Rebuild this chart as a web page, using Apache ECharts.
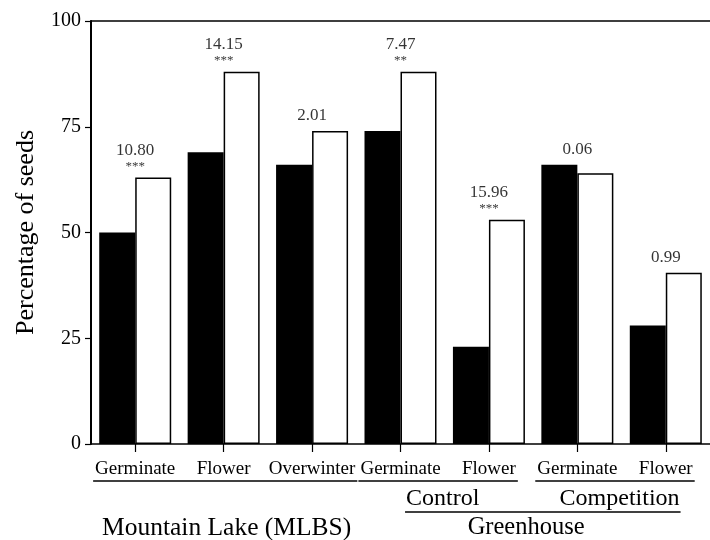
<!DOCTYPE html>
<html>
<head>
<meta charset="utf-8">
<script src="https://cdn.jsdelivr.net/npm/echarts@6/dist/echarts.min.js"></script>
<style>
  html, body { margin: 0; padding: 0; background: #fff; }
  #chart { width: 710px; height: 540px; }
</style>
</head>
<body>
<div id="chart"></div>
<script>
// ---- data ----
var categories = ['Germinate', 'Flower', 'Overwinter', 'Germinate', 'Flower', 'Germinate', 'Flower'];
var blackValues = [50, 69, 66, 74, 23, 66, 28];
var whiteValues = [63, 88, 74, 88, 53, 64, 40.5];
var statValues = ['10.80', '14.15', '2.01', '7.47', '15.96', '0.06', '0.99'];
var sigMarks = ['***', '***', '', '**', '***', '', ''];
var yTicks = [0, 25, 50, 75, 100];
var groupLevel1 = [
  { name: 'Control', from: 3, to: 4 },
  { name: 'Competition', from: 5, to: 6 }
];
var groupLevel2 = [
  { name: 'Mountain Lake (MLBS)', from: 0, to: 2 },
  { name: 'Greenhouse', from: 3, to: 6 }
];

var FONT = '"Liberation Serif", "DejaVu Serif", serif';
var FONT_NAME = 'Liberation Serif';

var annotData = categories.map(function (c, i) {
  return [i, Math.max(blackValues[i], whiteValues[i])];
});

var chart = echarts.init(document.getElementById('chart'), null, { renderer: 'canvas' });

var option = {
  backgroundColor: '#fff',
  animation: false,
  grid: { left: 91, top: 21, width: 625, height: 423 },
  xAxis: [{
    type: 'category',
    data: categories,
    axisLine: { show: true, lineStyle: { color: '#000', width: 1.5 } },
    axisTick: { show: true, alignWithLabel: true, length: 8, lineStyle: { color: '#000', width: 1.2 } },
    axisLabel: { color: '#000', fontFamily: FONT_NAME, fontSize: 19, margin: 16, interval: 0 },
    splitLine: { show: false }
  }, {
    type: 'category',
    position: 'top',
    data: categories,
    axisLine: { show: true, lineStyle: { color: '#000', width: 1.5 } },
    axisTick: { show: false },
    axisLabel: { show: false },
    splitLine: { show: false }
  }],
  yAxis: {
    type: 'value',
    min: yTicks[0], max: yTicks[yTicks.length - 1], interval: 25,
    name: 'Percentage of seeds',
    nameLocation: 'middle',
    nameRotate: 90,
    nameGap: 52,
    nameTextStyle: { color: '#000', fontFamily: FONT_NAME, fontSize: 26 },
    axisLine: { show: true, lineStyle: { color: '#000', width: 2 } },
    axisTick: { show: true, inside: false, length: 6, lineStyle: { color: '#000', width: 1.2 } },
    axisLabel: { color: '#000', fontFamily: FONT_NAME, fontSize: 20, margin: 10 },
    splitLine: { show: false }
  },
  series: [{
    type: 'bar',
    name: 'black',
    data: blackValues,
    barWidth: 36,
    barGap: '0%',
    itemStyle: { color: '#000', borderColor: '#000', borderWidth: 0 },
    z: 2
  }, {
    type: 'bar',
    name: 'white',
    data: whiteValues,
    barWidth: 36,
    barGap: '0%',
    itemStyle: { color: '#fff', borderColor: '#000', borderWidth: 1.5 },
    z: 2
  }, {
    type: 'scatter',
    data: annotData,
    symbolSize: 0,
    silent: true,
    label: {
      show: true,
      position: 'top',
      distance: 5,
      formatter: function (p) {
        var i = p.dataIndex;
        var s = '{n|' + statValues[i] + '}';
        if (sigMarks[i]) s += '\n{s|' + sigMarks[i] + '}';
        return s;
      },
      rich: {
        n: { fontFamily: FONT_NAME, fontSize: 17, color: '#000', lineHeight: 20, align: 'center' },
        s: { fontFamily: FONT_NAME, fontSize: 13, color: '#000', lineHeight: 12, align: 'center' }
      }
    },
    z: 5
  }]
};
chart.setOption(option);

// ---- bracket-style group labels under the axis ----
var mctx = document.createElement('canvas').getContext('2d');
function textW(txt, size) {
  mctx.font = size + 'px ' + FONT;
  return mctx.measureText(txt).width;
}
function px(i) {
  return chart.convertToPixel({ xAxisIndex: 0 }, i);
}
var gfx = [];
var titles = [];
var catLineY = 481, lvl1Y = 499, lvl1LineY = 512, lvl2Y = 528;
var pad = 2;

function addTitle(txt, cx, cy, size) {
  titles.push({
    text: txt,
    left: cx,
    top: cy,
    textAlign: 'center',
    textVerticalAlign: 'middle',
    padding: 0,
    textStyle: { fontFamily: FONT_NAME, fontSize: size, fontWeight: 'normal', color: '#000' }
  });
}

var catGroups = [[0, 2], [3, 4], [5, 6]];
catGroups.forEach(function (g) {
  var x1 = px(g[0]) - textW(categories[g[0]], 19) / 2 - pad;
  var x2 = px(g[1]) + textW(categories[g[1]], 19) / 2 + pad;
  gfx.push({ type: 'line', shape: { x1: x1, y1: catLineY, x2: x2, y2: catLineY }, style: { stroke: '#000', lineWidth: 1.5 } });
});

var lvl1Extents = [];
groupLevel1.forEach(function (g) {
  var cx = (px(g.from) + px(g.to)) / 2 - 2;
  var w = textW(g.name, 24);
  lvl1Extents.push([cx - w / 2, cx + w / 2]);
  addTitle(g.name, cx, lvl1Y, 24);
});
gfx.push({ type: 'line', shape: { x1: lvl1Extents[0][0] - 1, y1: lvl1LineY, x2: lvl1Extents[1][1] + 1, y2: lvl1LineY }, style: { stroke: '#000', lineWidth: 1.5 } });

groupLevel2.forEach(function (g, k) {
  var cx = (px(g.from) + px(g.to)) / 2 + (k === 0 ? 3 : -7);
  addTitle(g.name, cx, lvl2Y, k === 0 ? 25.5 : 24.5);
});

chart.setOption({ graphic: { elements: gfx }, title: titles });
</script>
</body>
</html>
